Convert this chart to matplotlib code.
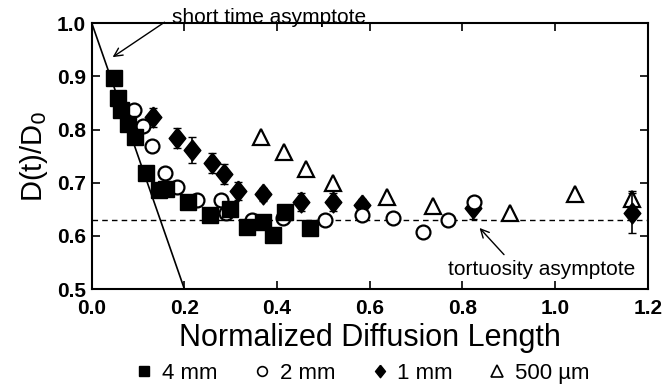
import matplotlib
matplotlib.use("Agg")
import matplotlib.pyplot as plt
import numpy as np
from matplotlib.lines import Line2D

plt.rcParams['font.family'] = ['Liberation Sans', 'DejaVu Sans']

# 4 mm (filled squares)
sq_x = [0.048, 0.056, 0.064, 0.078, 0.093, 0.116, 0.145, 0.160, 0.208, 0.256,
        0.298, 0.334, 0.370, 0.391, 0.418, 0.470]
sq_y = [0.897, 0.860, 0.836, 0.810, 0.786, 0.718, 0.686, 0.688, 0.664, 0.640,
        0.650, 0.617, 0.626, 0.601, 0.645, 0.615]

# 2 mm (open circles)
ci_x = [0.091, 0.110, 0.131, 0.159, 0.183, 0.227, 0.280, 0.290, 0.346, 0.412,
        0.503, 0.583, 0.650, 0.714, 0.768, 0.824]
ci_y = [0.836, 0.806, 0.769, 0.718, 0.692, 0.667, 0.667, 0.643, 0.630, 0.633,
        0.630, 0.639, 0.633, 0.607, 0.630, 0.664]

# 1 mm (filled diamonds with error bars)
di_x = [0.132, 0.183, 0.216, 0.260, 0.286, 0.316, 0.370, 0.452, 0.521, 0.583,
        0.823, 1.166]
di_y = [0.823, 0.784, 0.761, 0.737, 0.716, 0.684, 0.678, 0.663, 0.664, 0.658,
        0.652, 0.643]
di_err = [0.018, 0.019, 0.024, 0.019, 0.019, 0.017, 0.013, 0.017, 0.017, 0.012,
          0.020, 0.038]

# 500 um (open triangles)
tr_x = [0.366, 0.416, 0.463, 0.521, 0.637, 0.736, 0.902, 1.042, 1.166]
tr_y = [0.786, 0.758, 0.726, 0.700, 0.673, 0.656, 0.643, 0.679, 0.669]
tr_err = [0, 0, 0, 0, 0, 0, 0, 0, 0.015]

# asymptotes
short_x = [0.0, 0.2]
short_y = [1.0, 0.5]
tort_y = 0.63

diamond = [(0, 1), (0.8, 0), (0, -1), (-0.8, 0), (0, 1)]

fig = plt.figure(figsize=(6.65, 3.85), dpi=100)
ax = fig.add_axes([0.138, 0.249, 0.836, 0.691])

ax.plot(short_x, short_y, color='black', lw=1.2)
ax.axhline(tort_y, color='black', lw=1.0, ls=(0, (4, 3)))

ax.errorbar(tr_x, tr_y, yerr=tr_err, fmt='none', ecolor='black', elinewidth=1.2, capsize=3)
ax.plot(tr_x, tr_y, ls='none', marker='^', ms=11, mfc='white', mec='black', mew=1.6)
ax.errorbar(di_x, di_y, yerr=di_err, fmt='none', ecolor='black', elinewidth=1.2, capsize=3)
ax.plot(di_x, di_y, ls='none', marker=diamond, ms=15, mfc='black', mec='black')
ax.plot(ci_x, ci_y, ls='none', marker='o', ms=10, mfc='white', mec='black', mew=1.6)
ax.plot(sq_x, sq_y, ls='none', marker='s', ms=11, mfc='black', mec='black')

ax.set_xlim(0.0, 1.2)
ax.set_ylim(0.5, 1.0)
ax.set_xticks([0.0, 0.2, 0.4, 0.6, 0.8, 1.0, 1.2])
ax.set_yticks([0.5, 0.6, 0.7, 0.8, 0.9, 1.0])
ax.xaxis.set_major_formatter(matplotlib.ticker.FormatStrFormatter('%.1f'))
ax.yaxis.set_major_formatter(matplotlib.ticker.FormatStrFormatter('%.1f'))
ax.tick_params(direction='in', top=True, right=True, length=6, width=1.2,
               labelsize=15)
ax.tick_params(axis='x', pad=7)
ax.tick_params(axis='y', pad=4)
for lab in ax.get_xticklabels() + ax.get_yticklabels():
    lab.set_fontweight('bold')
for s in ax.spines.values():
    s.set_linewidth(1.5)

ax.set_xlabel('Normalized Diffusion Length', fontsize=22, labelpad=4)
ax.set_ylabel('D(t)/D$_0$', fontsize=21, labelpad=5)

ax.annotate('short time asymptote', xy=(0.045, 0.936), xytext=(0.173, 1.011),
            fontsize=15, va='center', ha='left', annotation_clip=False,
            arrowprops=dict(arrowstyle='->', color='black', lw=1.0,
                            shrinkA=4, shrinkB=0, relpos=(0.0, 0.5)))
ax.annotate('tortuosity asymptote', xy=(0.837, 0.615), xytext=(0.768, 0.536),
            fontsize=15, va='center', ha='left',
            arrowprops=dict(arrowstyle='->', color='black', lw=1.0,
                            shrinkA=3, shrinkB=0, relpos=(0.33, 1.0)))

handles = [
    Line2D([], [], ls='none', marker='s', ms=7, mfc='black', mec='black', label='4 mm'),
    Line2D([], [], ls='none', marker='o', ms=7, mfc='white', mec='black', mew=1.2, label='2 mm'),
    Line2D([], [], ls='none', marker=diamond, ms=9, mfc='black', mec='black', label='1 mm'),
    Line2D([], [], ls='none', marker='^', ms=8, mfc='white', mec='black', mew=1.2, label='500 \u00b5m'),
]
fig.legend(handles=handles, loc='lower center', bbox_to_anchor=(0.545, -0.05), ncol=4,
           frameon=False, fontsize=16, handlelength=0.8, handletextpad=0.4,
           columnspacing=1.6)

fig.savefig('out.png', dpi=100)
